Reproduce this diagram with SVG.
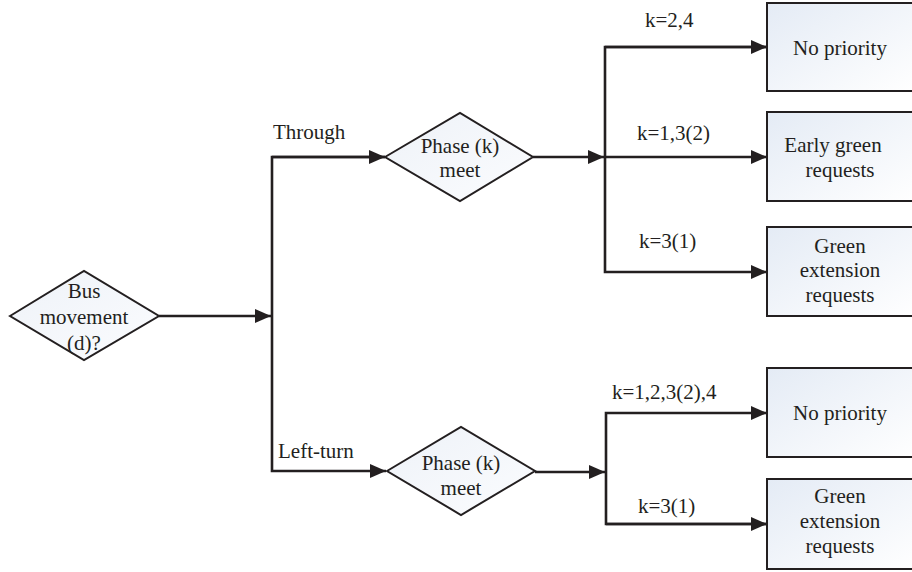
<svg xmlns="http://www.w3.org/2000/svg" width="912" height="572" viewBox="0 0 912 572">
  <style>
    .lbl { font-family: "Liberation Serif", "DejaVu Serif", "Times New Roman", serif; font-size: 21px; fill: #231f20; }
    .mid { text-anchor: middle; }
    .box { fill: url(#boxFill); stroke: #231f20; stroke-width: 2; }
    .dia { fill: url(#diaFill); stroke: #231f20; stroke-width: 2; }
    .wire { fill: none; stroke: #231f20; stroke-width: 2.6; }
  </style>
  <defs>
    <linearGradient id="boxFill" x1="0" y1="0" x2="1" y2="1">
      <stop offset="0" stop-color="#e4ebf5"/>
      <stop offset="1" stop-color="#ffffff"/>
    </linearGradient>
    <linearGradient id="diaFill" x1="0" y1="0" x2="1" y2="1">
      <stop offset="0" stop-color="#eef2f8"/>
      <stop offset="1" stop-color="#fbfcfe"/>
    </linearGradient>
    <marker id="arrow" viewBox="0 0 16 14" refX="16" refY="7" markerWidth="16" markerHeight="14" markerUnits="userSpaceOnUse" orient="auto">
      <path d="M0,0 L16,7 L0,14 Z" fill="#231f20"/>
    </marker>
  </defs>
  <rect width="912" height="572" fill="#ffffff"/>

  <!-- connectors -->
  <g id="connectors">
    <line class="wire" x1="159" y1="316" x2="271" y2="316" marker-end="url(#arrow)"/>
    <polyline class="wire" points="385,157 272,157 272,471 386,471" marker-end="url(#arrow)"/>
    <line class="wire" x1="272" y1="157" x2="385" y2="157" marker-end="url(#arrow)"/>
    <line class="wire" x1="533" y1="157" x2="604" y2="157" marker-end="url(#arrow)"/>
    <polyline class="wire" points="767,47 605,47 605,272 767,272" marker-end="url(#arrow)"/>
    <line class="wire" x1="605" y1="47" x2="767" y2="47" marker-end="url(#arrow)"/>
    <line class="wire" x1="605" y1="157" x2="767" y2="157" marker-end="url(#arrow)"/>
    <line class="wire" x1="535" y1="472" x2="605" y2="472" marker-end="url(#arrow)"/>
    <polyline class="wire" points="767,524 606,524 606,413 767,413" marker-end="url(#arrow)"/>
    <line class="wire" x1="606" y1="524" x2="767" y2="524" marker-end="url(#arrow)"/>
    <text class="lbl" x="273" y="139">Through</text>
    <text class="lbl" x="278" y="458">Left-turn</text>
    <text class="lbl" x="645" y="27">k=2,4</text>
    <text class="lbl" x="637" y="140">k=1,3(2)</text>
    <text class="lbl" x="639" y="248">k=3(1)</text>
    <text class="lbl" x="612" y="399">k=1,2,3(2),4</text>
    <text class="lbl" x="638" y="513">k=3(1)</text>
  </g>

  <!-- decision: bus movement -->
  <g id="bus-movement">
    <polygon class="dia" points="10,316 84,271 159,316 84,360"/>
    <text class="lbl mid" x="84" y="298">Bus</text>
    <text class="lbl mid" x="84" y="324">movement</text>
    <text class="lbl mid" x="84" y="350">(d)?</text>
  </g>

  <!-- decision: phase, through -->
  <g id="phase-through">
    <polygon class="dia" points="385,157 460,113 533,157 460,201"/>
    <text class="lbl mid" x="460" y="153">Phase (k)</text>
    <text class="lbl mid" x="460" y="177">meet</text>
  </g>

  <!-- decision: phase, left-turn -->
  <g id="phase-left">
    <polygon class="dia" points="387,471 461,427 535,471 461,515"/>
    <text class="lbl mid" x="461" y="470">Phase (k)</text>
    <text class="lbl mid" x="461" y="495">meet</text>
  </g>

  <!-- outcomes, through -->
  <g id="through-no-priority">
    <rect class="box" x="767" y="3" width="150" height="88"/>
    <text class="lbl mid" x="840" y="55">No priority</text>
  </g>
  <g id="through-early-green">
    <rect class="box" x="767" y="112" width="150" height="89"/>
    <text class="lbl mid" x="833" y="152">Early green</text>
    <text class="lbl mid" x="840" y="177">requests</text>
  </g>
  <g id="through-green-extension">
    <rect class="box" x="767" y="227" width="150" height="89"/>
    <text class="lbl mid" x="840" y="253">Green</text>
    <text class="lbl mid" x="840" y="277">extension</text>
    <text class="lbl mid" x="840" y="302">requests</text>
  </g>

  <!-- outcomes, left-turn -->
  <g id="left-no-priority">
    <rect class="box" x="767" y="368" width="150" height="89"/>
    <text class="lbl mid" x="840" y="420">No priority</text>
  </g>
  <g id="left-green-extension">
    <rect class="box" x="767" y="479" width="150" height="90"/>
    <text class="lbl mid" x="840" y="503">Green</text>
    <text class="lbl mid" x="840" y="528">extension</text>
    <text class="lbl mid" x="840" y="553">requests</text>
  </g>
</svg>
